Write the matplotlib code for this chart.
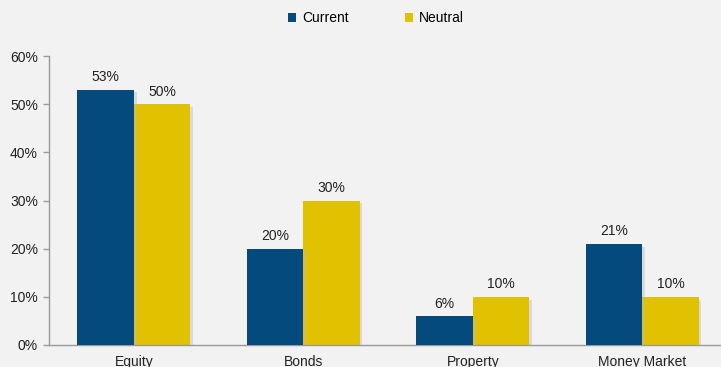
import matplotlib
matplotlib.use("Agg")
import matplotlib.pyplot as plt
import matplotlib.patheffects as pe
from matplotlib.patches import Patch
import numpy as np

categories = ["Equity", "Bonds", "Property", "Money Market"]
current = [53, 20, 6, 21]
neutral = [50, 30, 10, 10]
series_names = ["Current", "Neutral"]
y_ticks = [0, 10, 20, 30, 40, 50, 60]

plt.rcParams["font.family"] = ["Liberation Sans", "DejaVu Sans"]

W, H = 721, 367
fig = plt.figure(figsize=(W / 100, H / 100), dpi=100, facecolor="#f2f2f2")
ax = fig.add_axes([49 / W, 22 / H, 678 / W, 289 / H], facecolor="#f2f2f2")

x = np.arange(len(categories))
bw = 0.333
blue = "#044a7c"
yellow = "#e0c200"
shadow = [pe.SimplePatchShadow(offset=(2, -2), shadow_rgbFace="#b8b8b8", alpha=0.4), pe.Normal()]

b1 = ax.bar(x - bw / 2, current, bw, color=blue, path_effects=shadow, zorder=3)
b2 = ax.bar(x + bw / 2, neutral, bw, color=yellow, path_effects=shadow, zorder=2)

for bars, vals in ((b1, current), (b2, neutral)):
    for rect, v in zip(bars, vals):
        ax.annotate(f"{v}%", (rect.get_x() + rect.get_width() / 2, v),
                    xytext=(0, 4), textcoords="offset points",
                    ha="center", va="bottom", fontsize=10, color="#222222")

ax.set_xlim(-0.5, 3.5)
ax.set_ylim(0, 60)
ax.set_yticks(y_ticks)
ax.set_yticklabels([f"{t}%" for t in y_ticks], fontsize=10, color="#222222")
ax.set_xticks(x)
ax.set_xticklabels(categories, fontsize=10, color="#222222")
ax.tick_params(axis="x", length=0, pad=7.5)
ax.tick_params(axis="y", length=4, color="#999999", width=1, pad=4)

for s in ("top", "right"):
    ax.spines[s].set_visible(False)
for s in ("left", "bottom"):
    ax.spines[s].set_color("#999999")
    ax.spines[s].set_linewidth(1)

handles = [Patch(facecolor=blue), Patch(facecolor=yellow)]
fig.legend(handles=handles, labels=series_names, loc="center", bbox_to_anchor=(376 / W, 1 - 18 / H),
           ncol=2, frameon=False, fontsize=10, handlelength=0.6, handleheight=0.6,
           handletextpad=0.45, columnspacing=4.0)

fig.savefig("out.png", dpi=100, facecolor=fig.get_facecolor())
